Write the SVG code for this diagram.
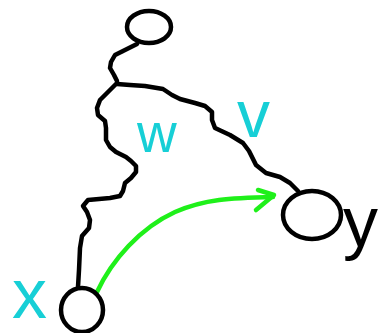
<svg xmlns="http://www.w3.org/2000/svg" width="379" height="333" viewBox="0 0 379 333">
<style>
.ink{fill:none;stroke:#000;stroke-width:4.5;stroke-linecap:round;stroke-linejoin:round}
.grn{fill:none;stroke:#1ff01a;stroke-width:4.5;stroke-linecap:round;stroke-linejoin:round}
.lbl{font-family:"Liberation Sans",Arial,sans-serif;fill:#17cfd6}
.blk{font-family:"Liberation Sans",Arial,sans-serif;fill:#000}
</style>
<rect width="379" height="333" fill="#fff"/>
<g id="connectors">
<polyline class="ink" points="137,44 125,50 115,55 111,62 110,68 114,75 117,81"/>
<polyline class="ink" points="117,83 109,91 100,100 97,108 98,115 105,121 106,128 106,140 110,147 116,152 126,157 131,161 136,166 136,172 131,178 125,183 123,191 120,196 110,198 88,200 83,206 87,212 90,220 89,228 82,236 80,248 79,270 78,287"/>
<polyline class="ink" points="117,84 130,85 145,86 163,89 172,95 180,99 195,103 205,106 212,112 212,120 215,128 230,135 243,143 249,151 256,165 266,173 280,177 290,183 298,191"/>
<path class="grn" d="M97,292 C112,260 140,228 175,212 C205,199 230,198 273,197"/>
<polyline class="grn" points="258,190 274,195 256,210"/>
</g>
<g id="node-top"><ellipse class="ink" cx="149" cy="27" rx="22" ry="16"/></g>
<g id="node-x"><ellipse class="ink" cx="82" cy="310" rx="21" ry="22"/></g>
<g id="node-y"><ellipse class="ink" cx="312" cy="215" rx="29" ry="24"/></g>
<g id="labels">
<text class="lbl" x="12" y="318" font-size="70">x</text>
<text class="lbl" x="137" y="152" font-size="55">w</text>
<text class="lbl" x="237" y="137" font-size="66">v</text>
<text class="blk" x="343" y="246" font-size="70">y</text>
</g>
</svg>
